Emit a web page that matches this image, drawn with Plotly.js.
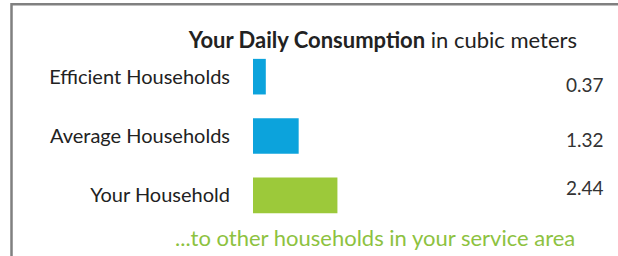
<!DOCTYPE html>
<html>
<head>
<meta charset="utf-8">
<script src="https://cdn.plot.ly/plotly-3.0.1.min.js"></script>
<style>
  html, body { margin: 0; padding: 0; background: #ffffff; }
  #chart { width: 618px; height: 256px; }
</style>
</head>
<body>
<div id="chart"></div>
<script>
// ---- data ----
const categories = ["Efficient Households", "Average Households", "Your Household"];
const consumption = [0.37, 1.32, 2.44];
const valueLabels = ["0.37", "1.32", "2.44"];
const barColors = ["#0ca3dc", "#0ca3dc", "#9cc93a"];
const titleText = "<b>Your Daily Consumption</b> in cubic meters";
const footerText = "...to other households in your service area";

// ---- style / layout constants ----
const W = 618, H = 256;
const M = { l: 253, r: 12, t: 47, b: 31 };
const pxPerUnit = 34.6;
const plotW = W - M.l - M.r, plotH = H - M.t - M.b;
const FONT = "Lato, 'Open Sans', sans-serif";
const valueShift = [-8, -3, 8];

function px2x(px) { return (px - M.l) / plotW; }
function py2y(py) { return (H - M.b - py) / plotH; }

const trace = {
  type: "bar",
  orientation: "h",
  y: categories,
  x: consumption,
  width: 0.6,
  marker: { color: barColors, line: { width: 0 } },
  hoverinfo: "skip"
};

const annotations = categories.map((c, i) => ({
  xref: "paper", yref: "y",
  x: 1, y: c,
  xanchor: "right", yanchor: "middle",
  yshift: valueShift[i],
  text: valueLabels[i],
  showarrow: false,
  font: { family: FONT, size: 19, color: "#333333" }
}));
annotations.push({
  xref: "paper", yref: "paper",
  x: px2x(375), y: py2y(237),
  xanchor: "center", yanchor: "middle",
  text: footerText,
  showarrow: false,
  font: { family: FONT, size: 22, color: "#8dc23f" }
});

const layout = {
  width: W, height: H,
  margin: M,
  paper_bgcolor: "#ffffff",
  plot_bgcolor: "#ffffff",
  showlegend: false,
  title: {
    text: titleText,
    xref: "container", yref: "container",
    x: 577 / W, xanchor: "right",
    y: 1 - 40 / H, yanchor: "middle",
    font: { family: FONT, size: 22, color: "#222222" }
  },
  xaxis: {
    range: [0, plotW / pxPerUnit],
    showgrid: false, zeroline: false, showline: false,
    showticklabels: false, ticks: "", fixedrange: true
  },
  yaxis: {
    autorange: "reversed",
    showgrid: false, zeroline: false, showline: false,
    ticks: "", ticklabelstandoff: 22,
    tickfont: { family: FONT, size: 20, color: "#222222" },
    fixedrange: true
  },
  bargap: 0.4,
  annotations: annotations,
  shapes: [{
    type: "path",
    xref: "paper", yref: "paper",
    path: `M ${px2x(11.5)} ${py2y(260)} L ${px2x(11.5)} ${py2y(4.3)} L ${px2x(622)} ${py2y(4.3)}`,
    line: { color: "#808080", width: 2.5 },
    fillcolor: "rgba(0,0,0,0)"
  }]
};

Plotly.newPlot("chart", [trace], layout, { displayModeBar: false, staticPlot: true });
</script>
</body>
</html>
